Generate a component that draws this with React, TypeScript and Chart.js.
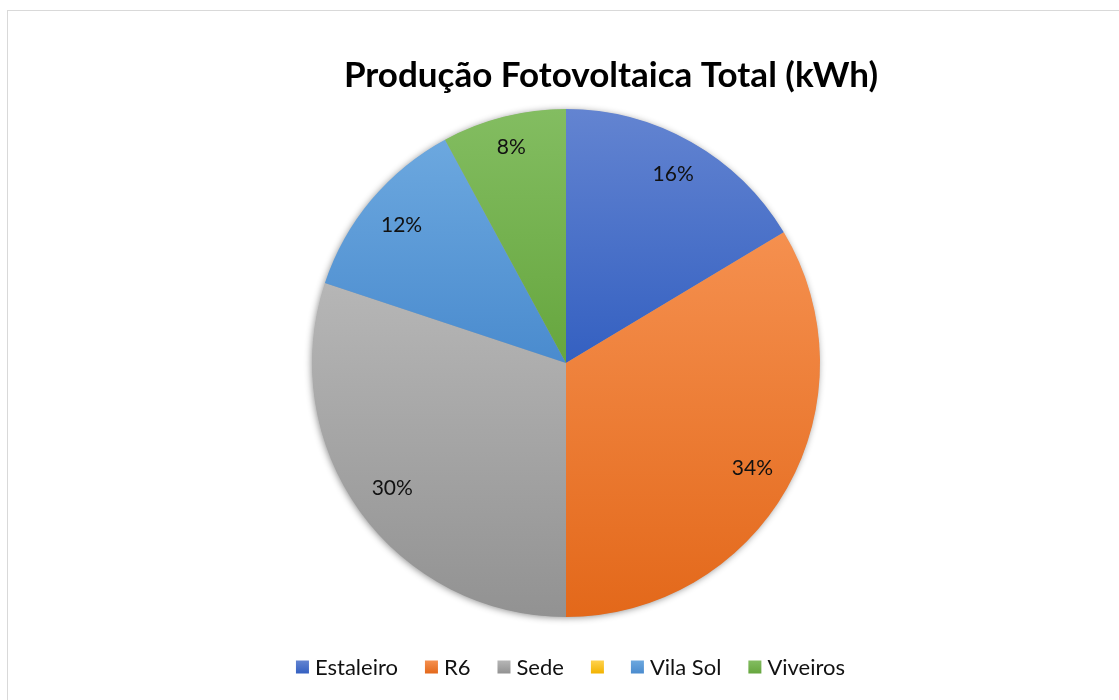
import React, { useEffect, useRef } from "react";
import { Chart, registerables } from "chart.js";

Chart.register(...registerables);

const TITLE = "Produção Fotovoltaica Total (kWh)";
const categories = ["Estaleiro", "R6", "Sede", "", "Vila Sol", "Viveiros"];
const values = [16.4, 33.6, 30.1, 0, 12.0, 7.9];
const topColors = ["#6384d1", "#f5904f", "#b6b6b6", "#ffd24d", "#6ca8df", "#83bd61"];
const bottomColors = ["#3460c1", "#e3681a", "#929292", "#f2b200", "#4a8bce", "#66a63e"];
const legendColors = ["#4472c4", "#ed7d31", "#a5a5a5", "#ffc000", "#5b9bd5", "#70ad47"];

const FONT = "Lato, 'Open Sans', sans-serif";
const RADIUS = 254;

function sliceYRange(idx: number, cy: number, r: number) {
  const total = values.reduce((a, b) => a + b, 0);
  let start = 0;
  for (let i = 0; i < idx; i++) start += values[i];
  const a0 = (start / total) * 2 * Math.PI;
  const a1 = ((start + values[idx]) / total) * 2 * Math.PI;
  const ys = [cy, cy - r * Math.cos(a0), cy - r * Math.cos(a1)];
  if (a0 <= 0.0001) ys.push(cy - r);
  if (a0 <= Math.PI && a1 >= Math.PI) ys.push(cy + r);
  if (a1 >= 2 * Math.PI - 0.0001) ys.push(cy - r);
  return [Math.min(...ys), Math.max(...ys)];
}

const shadowPlugin = {
  id: "pieShadow",
  beforeDatasetsDraw(chart: any) {
    const meta = chart.getDatasetMeta(0);
    const arc = meta.data[0];
    if (!arc) return;
    const { ctx } = chart;
    ctx.save();
    ctx.shadowColor = "rgba(0,0,0,0.45)";
    ctx.shadowBlur = 7;
    ctx.shadowOffsetX = -1;
    ctx.shadowOffsetY = 1;
    ctx.beginPath();
    ctx.arc(arc.x, arc.y, arc.outerRadius - 0.5, 0, Math.PI * 2);
    ctx.fillStyle = "#a0a0a0";
    ctx.fill();
    ctx.restore();
  },
};

const labelPlugin = {
  id: "pieLabels",
  afterDatasetsDraw(chart: any) {
    const meta = chart.getDatasetMeta(0);
    const data = chart.data.datasets[0].data as number[];
    const total = data.reduce((a, b) => a + b, 0);
    const { ctx } = chart;
    ctx.save();
    ctx.font = `21px ${FONT}`;
    ctx.fillStyle = "#111";
    ctx.textAlign = "center";
    ctx.textBaseline = "middle";
    meta.data.forEach((arc: any, i: number) => {
      if (!data[i]) return;
      const txt = Math.round((data[i] / total) * 100) + "%";
      const hw = ctx.measureText(txt).width / 2;
      const hh = 12;
      const mid = (arc.startAngle + arc.endAngle) / 2;
      const ux = Math.cos(mid);
      const uy = Math.sin(mid);
      const d = arc.outerRadius * 0.937 - (hw * Math.abs(ux) + hh * Math.abs(uy));
      ctx.fillText(txt, arc.x + ux * d, arc.y + uy * d);
    });
    ctx.restore();
  },
};

const titlePlugin = {
  id: "offsetTitle",
  afterDraw(chart: any) {
    const { ctx } = chart;
    ctx.save();
    ctx.font = `bold 35px ${FONT}`;
    ctx.fillStyle = "#000";
    ctx.textAlign = "center";
    ctx.textBaseline = "middle";
    ctx.fillText(TITLE, 611, 76);
    ctx.restore();
  },
};

const legendPlugin = {
  id: "customLegend",
  afterDraw(chart: any) {
    const { ctx } = chart;
    ctx.save();
    ctx.font = `22px ${FONT}`;
    const box = 13;
    const gapText = 6;
    const gapItem = 27;
    const widths = categories.map((c) => box + (c ? gapText + ctx.measureText(c).width : 0));
    const total = widths.reduce((a, b) => a + b, 0) + gapItem * (categories.length - 1);
    let x = 570.5 - total / 2;
    const y = 667;
    ctx.textBaseline = "middle";
    ctx.textAlign = "left";
    categories.forEach((c, i) => {
      const g = ctx.createLinearGradient(0, y - box / 2, 0, y + box / 2);
      g.addColorStop(0, topColors[i]);
      g.addColorStop(1, bottomColors[i]);
      ctx.fillStyle = g;
      ctx.fillRect(x, y - box / 2, box, box);
      if (c) {
        ctx.fillStyle = "#111";
        ctx.fillText(c, x + box + gapText, y + 1);
      }
      x += widths[i] + gapItem;
    });
    ctx.restore();
  },
};

export default function App() {
  const ref = useRef<HTMLCanvasElement>(null);
  useEffect(() => {
    if (!ref.current) return;
    const chart = new Chart(ref.current, {
      type: "pie",
      data: {
        labels: categories,
        datasets: [
          {
            data: values,
            borderWidth: 0,
            backgroundColor: (c: any) => {
              const ch = c.chart;
              const area = ch.chartArea;
              const i = c.dataIndex;
              if (!area || i === undefined) return legendColors[i ?? 0];
              const cy = (area.top + area.bottom) / 2;
              const [y0, y1] = sliceYRange(i, cy, RADIUS);
              if (y1 - y0 < 1) return legendColors[i];
              const g = ch.ctx.createLinearGradient(0, y0, 0, y1);
              g.addColorStop(0, topColors[i]);
              g.addColorStop(1, bottomColors[i]);
              return g;
            },
          },
        ],
      },
      options: {
        responsive: false,
        animation: false,
        radius: RADIUS,
        layout: { padding: { left: 13, right: 0, top: 109, bottom: 83 } },
        plugins: {
          title: { display: false },
          tooltip: { enabled: false },
          legend: { display: false },
        },
      } as any,
      plugins: [shadowPlugin, labelPlugin, titlePlugin, legendPlugin],
    });
    return () => chart.destroy();
  }, []);
  return (
    <div style={{ position: "fixed", left: 0, top: 0, width: 1119, height: 700, background: "#fff" }}>
      <div
        style={{
          position: "absolute",
          left: 7,
          top: 10,
          width: 1200,
          height: 800,
          borderTop: "1px solid #d9d9d9",
          borderLeft: "1px solid #d9d9d9",
        }}
      />
      <canvas ref={ref} width={1119} height={700} style={{ position: "absolute", left: 0, top: 0 }} />
    </div>
  );
}
